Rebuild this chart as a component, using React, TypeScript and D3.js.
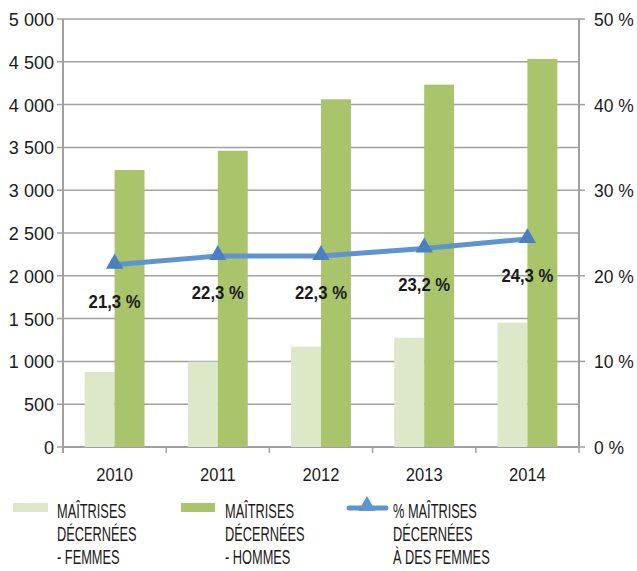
import React from "react";
import * as d3 from "d3";

const years = ["2010", "2011", "2012", "2013", "2014"];
const femmes = [876, 997, 1172, 1277, 1452];
const hommes = [3236, 3461, 4062, 4233, 4533];
const pctFemmes = [21.3, 22.3, 22.3, 23.2, 24.3];
const pctLabels = ["21,3 %", "22,3 %", "22,3 %", "23,2 %", "24,3 %"];
const leftTicks = [0, 500, 1000, 1500, 2000, 2500, 3000, 3500, 4000, 4500, 5000];
const rightTicks = [0, 10, 20, 30, 40, 50];
const legendFem = ["MAÎTRISES", "DÉCERNÉES", "- FEMMES"];
const legendHom = ["MAÎTRISES", "DÉCERNÉES", "- HOMMES"];
const legendPct = ["% MAÎTRISES", "DÉCERNÉES", "À DES FEMMES"];

const FONT = "'Liberation Sans', Arial, sans-serif";
const C_FEM = "#dde8c9";
const C_HOM = "#a9c46b";
const C_LINE = "#5e94d0";
const C_TRI = "#4b7fc0";
const C_GRID = "#a0a0a0";

const fmt = (v: number) => (v >= 1000 ? `${Math.floor(v / 1000)} ${String(v % 1000).padStart(3, "0")}` : String(v));

// narrow text: the original uses a condensed face
const Narrow = ({ x, y, lines, sx = 0.72, size = 18, anchor = "start", bold = false, gap = 24 }: any) => (
  <g transform={`translate(${x},${y}) scale(${sx},1)`}>
    <text fontFamily={FONT} fontSize={size} fill="#1a1a1a" textAnchor={anchor} fontWeight={bold ? "bold" : "normal"}>
      {lines.map((l: string, i: number) => (
        <tspan key={i} x={0} y={i * gap}>
          {l}
        </tspan>
      ))}
    </text>
  </g>
);

const App = () => {
  const width = 637;
  const height = 571;
  const left = 63;
  const right = 579;
  const top = 19;
  const bottom = 447;

  const x = d3.scaleBand().domain(years).range([left, right]);
  const y = d3.scaleLinear().domain([0, 5000]).range([bottom, top]);
  const yp = d3.scaleLinear().domain([0, 50]).range([bottom, top]);
  const bw = x.bandwidth() * 0.29;
  const cx = (yr: string) => x(yr)! + x.bandwidth() / 2;

  const line = d3
    .line<number>()
    .x((_, i) => cx(years[i]))
    .y((d) => yp(d));

  const tri = d3.symbol().type(d3.symbolTriangle).size(130)();

  return (
    <svg width={width} height={height} style={{ position: "absolute", left: 0, top: 0 }}>
      <rect width={width} height={height} fill="#fff" />
      {/* gridlines */}
      {leftTicks.map((t) => (
        <line key={t} x1={left - 6} x2={right} y1={y(t)} y2={y(t)} stroke={C_GRID} strokeWidth={1.5} />
      ))}
      {/* left axis */}
      <line x1={left} x2={left} y1={top} y2={bottom + 6} stroke={C_GRID} strokeWidth={2} />
      {leftTicks.map((t) => (
        <Narrow key={t} x={left - 9} y={y(t) + 7} lines={[fmt(t)]} sx={0.95} size={19} anchor="end" />
      ))}
      {/* right axis */}
      <line x1={right} x2={right} y1={top} y2={bottom} stroke={C_GRID} strokeWidth={2} />
      {rightTicks.map((t) => (
        <g key={t}>
          <line x1={right} x2={right + 6} y1={yp(t)} y2={yp(t)} stroke={C_GRID} strokeWidth={1.5} />
          <Narrow x={right + 15} y={yp(t) + 7} lines={[`${t} %`]} sx={0.92} size={19} />
        </g>
      ))}
      {/* bottom axis */}
      <line x1={left} x2={right} y1={bottom} y2={bottom} stroke={C_GRID} strokeWidth={2} />
      {years.map((yr, i) => (
        <g key={yr}>
          <line x1={x(yr)!} x2={x(yr)!} y1={bottom} y2={bottom + 6} stroke={C_GRID} strokeWidth={1.5} />
          {i === years.length - 1 && (
            <line x1={right} x2={right} y1={bottom} y2={bottom + 6} stroke={C_GRID} strokeWidth={1.5} />
          )}
          <Narrow x={cx(yr)} y={481} lines={[yr]} sx={0.92} size={18} anchor="middle" />
        </g>
      ))}
      {/* bars */}
      {years.map((yr, i) => (
        <g key={yr}>
          <rect x={cx(yr) - bw} y={y(femmes[i])} width={bw} height={bottom - y(femmes[i])} fill={C_FEM} />
          <rect x={cx(yr)} y={y(hommes[i])} width={bw} height={bottom - y(hommes[i])} fill={C_HOM} />
        </g>
      ))}
      {/* line */}
      <path d={line(pctFemmes)!} fill="none" stroke={C_LINE} strokeWidth={5} />
      {pctFemmes.map((p, i) => (
        <path key={i} d={tri!} transform={`translate(${cx(years[i])},${yp(p) - 1})`} fill={C_TRI} />
      ))}
      {pctFemmes.map((p, i) => (
        <Narrow key={i} x={cx(years[i])} y={yp(p) + 43} lines={[pctLabels[i]]} sx={0.88} size={19} anchor="middle" bold />
      ))}
      {/* legend */}
      <rect x={13} y={503} width={35} height={9} fill={C_FEM} />
      <Narrow x={57} y={518} lines={legendFem} sx={0.64} size={20} gap={23} />
      <rect x={181} y={503} width={34} height={9} fill={C_HOM} />
      <Narrow x={225} y={518} lines={legendHom} sx={0.64} size={20} gap={23} />
      <line x1={349} x2={386} y1={508} y2={508} stroke={C_LINE} strokeWidth={5} strokeLinecap="round" />
      <path d={tri!} transform="translate(367,506)" fill={C_LINE} />
      <Narrow x={393} y={518} lines={legendPct} sx={0.64} size={20} gap={23} />
    </svg>
  );
};

export default App;
